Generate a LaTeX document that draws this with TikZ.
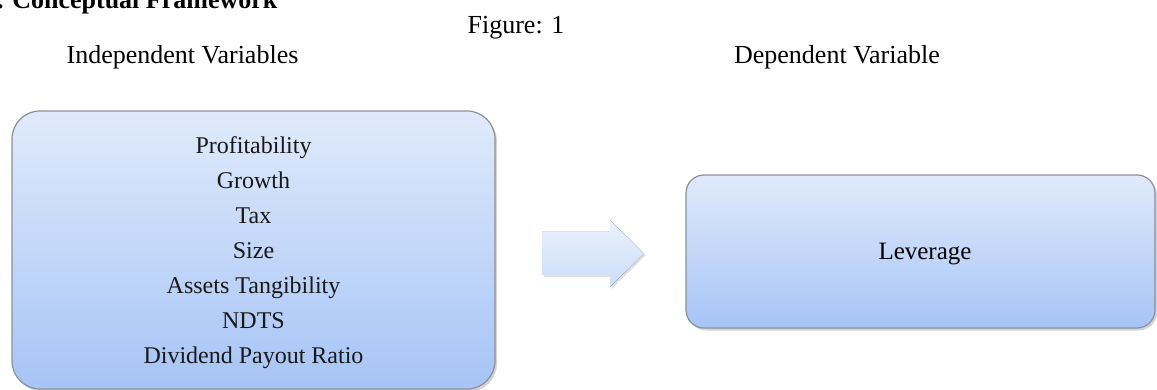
\documentclass[tikz,border=0pt]{standalone}
\usepackage{fontspec}
\setmainfont{Liberation Serif}
\usetikzlibrary{shadows}
\definecolor{boxtop}{HTML}{E0EAFB}
\definecolor{boxbot}{HTML}{A6C4F6}
\definecolor{boxline}{HTML}{8C9099}
\definecolor{arrtop}{HTML}{EAF1FC}
\definecolor{arrbot}{HTML}{CCDDF8}
\tikzset{
  heading/.style={font=\fontsize{26}{30}\selectfont, inner sep=0pt, anchor=base},
  varbox/.style={draw=boxline, line width=1.2pt, top color=boxtop, bottom color=boxbot,
    drop shadow={opacity=0.35, shadow xshift=2pt, shadow yshift=-2.5pt}},
  boxtext/.style={font=\fontsize{24}{35}\selectfont, align=center, inner sep=0pt, text=black!90},
  blockarrow/.style={top color=arrtop, bottom color=arrbot, draw=none,
    drop shadow={opacity=0.25, shadow xshift=1.5pt, shadow yshift=-2pt}}
}
\begin{document}
\begin{tikzpicture}[x=1pt,y=-1pt]
\useasboundingbox (0,0) rectangle (1157,390);
% headings
\node[font=\bfseries\fontsize{26}{30}\selectfont, inner sep=0pt, anchor=base west] (title) at (-3,9) {. Conceptual Framework};
\node[heading] (fig) at (516,34) {Figure: 1};
\node[heading] (indephead) at (182.5,64) {Independent Variables};
\node[heading] (dephead) at (837,64) {Dependent Variable};
% left box
\path[varbox, rounded corners=28pt] (12,111) rectangle (495,389);
\node[inner sep=0pt, minimum width=483pt, minimum height=278pt] (indep) at (253.5,250) {};
\node[boxtext] (indeptext) at (253.5,253) {Profitability\\Growth\\Tax\\Size\\Assets Tangibility\\NDTS\\Dividend Payout Ratio};
% right box
\path[varbox, rounded corners=18pt] (686,175) rectangle (1155,328);
\node[inner sep=0pt, minimum width=469pt, minimum height=153pt] (dep) at (920.5,251.5) {};
\node[font=\fontsize{25}{30}\selectfont, inner sep=0pt, anchor=base] (deptext) at (925,260) {Leverage};
% block arrow
\coordinate (a0) at (542,253.5);
\fill[blockarrow] (a0) ++(0,-21.5) -- ++(68,0) -- ++(0,-12) -- (644,253.5) -- (610,287) -- ++(0,-12) -- ++(-68,0) -- cycle;
\end{tikzpicture}
\end{document}
